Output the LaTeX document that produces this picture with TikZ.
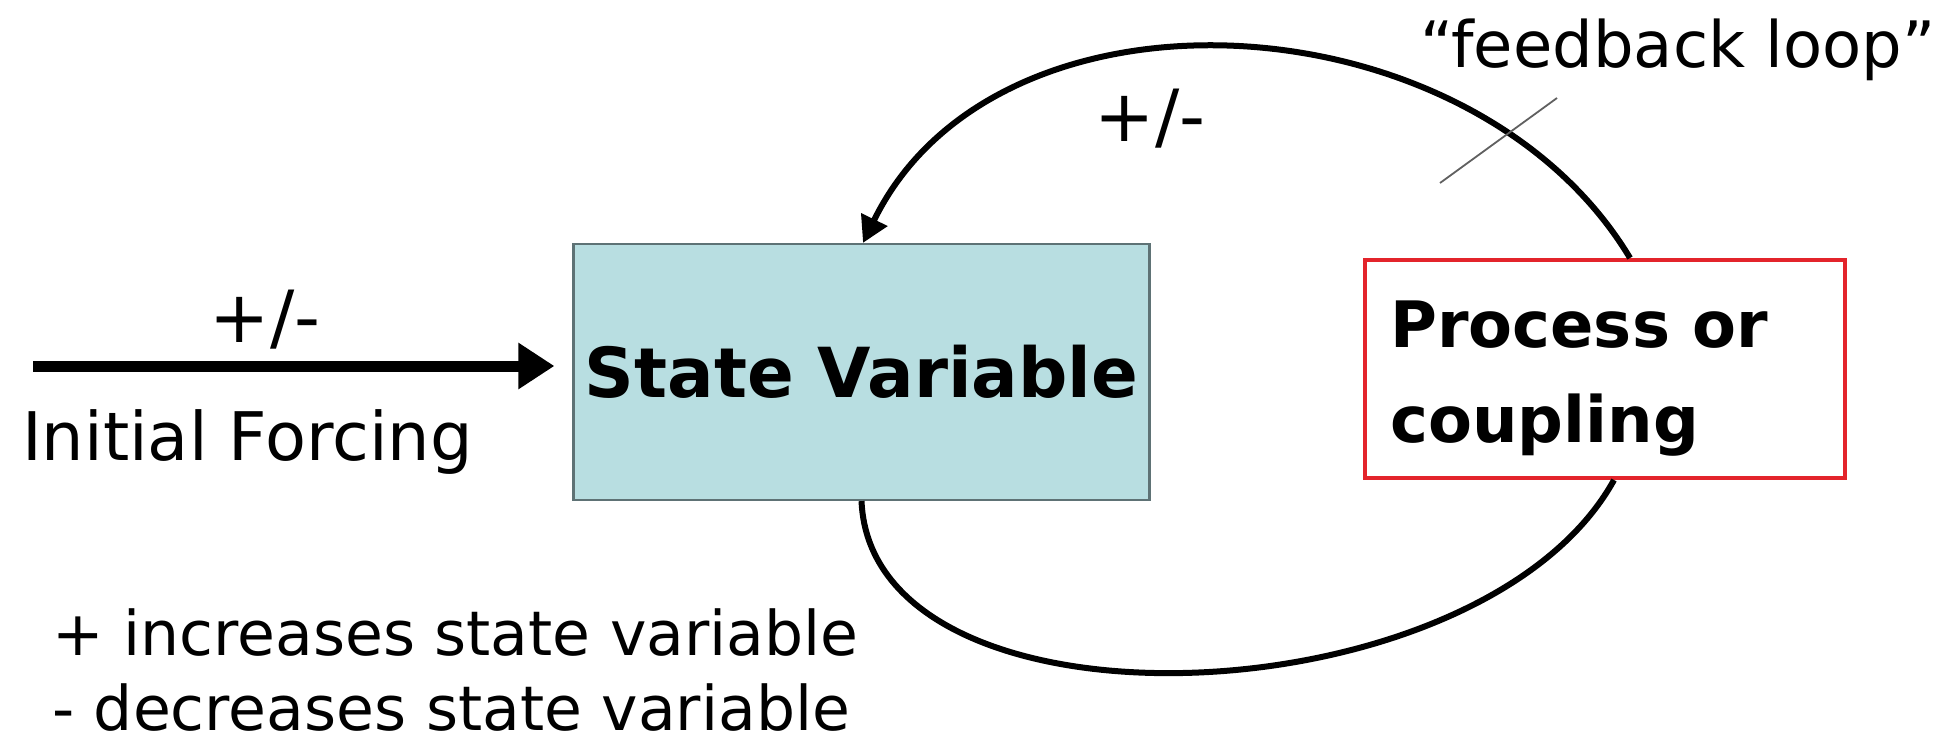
\documentclass[tikz,border=0pt]{standalone}
\usepackage{fontspec}
\setmainfont{DejaVu Sans}
\usetikzlibrary{arrows.meta}
\definecolor{svfill}{HTML}{B8DEE1}
\definecolor{svdraw}{HTML}{5E7275}
\definecolor{procred}{HTML}{E3242B}
\definecolor{tickgray}{HTML}{606060}
\begin{document}
\begin{tikzpicture}[x=1pt,y=-1pt,
  svbox/.style={draw=svdraw, line width=2.2pt, fill=svfill, minimum width=576pt, minimum height=256pt, inner sep=0pt,
    font=\fontsize{69}{82}\selectfont\bfseries},
  procbox/.style={draw=procred, line width=4pt, minimum width=480pt, minimum height=218pt, inner sep=0pt},
  proctext/.style={font=\fontsize{64}{95}\selectfont\bfseries, align=left, inner sep=0pt},
  lbl/.style={font=\fontsize{72}{84}\selectfont, inner sep=0pt},
  initlbl/.style={font=\fontsize{67}{80}\selectfont, inner sep=0pt},
  legend/.style={font=\fontsize{61.6}{72}\selectfont, inner sep=0pt},
  fbstyle/.style={font=\fontsize{64}{76}\selectfont, inner sep=0pt},
  loopline/.style={line width=6pt, draw=black},
  forcing/.style={line width=11pt, draw=black, -{Triangle[length=36pt,width=44pt]}},
  tickline/.style={line width=1.8pt, draw=tickgray}]
\useasboundingbox (0,0) rectangle (1934,742);
% boxes
\node[svbox] (sv) at (861.5,372) {State Variable};
\node[procbox] (proc) at (1605,369) {};
\node[proctext, anchor=west] (proctxt) at (1390,379) {Process or\\coupling};
% initial forcing
\coordinate (fstart) at (33,366);
\draw[forcing, shorten >=18pt] (fstart) -- (sv.west |- fstart);
\node[lbl] (pmleft) at (265,320) {+/-};
\node[initlbl, anchor=west] (init) at (22,442) {Initial Forcing};
% feedback loop
\draw[loopline, -{Triangle[length=26pt,width=28pt]}] ([xshift=25pt]proc.north) .. controls (1472,-5) and (997,-32) .. ([xshift=1.5pt]sv.north);
\draw[loopline] (sv.south) .. controls (872,745) and (1480,722) .. ([xshift=9pt]proc.south);
\node[lbl] (pmtop) at (1150,119) {+/-};
\node[fbstyle] (fbl) at (1678,50) {“feedback loop”};
\coordinate (tickA) at (1440,183);
\coordinate (tickB) at (1557,98);
\draw[tickline] (tickA) -- (tickB);
% legend
\node[legend, anchor=base west] (leg1) at (52,655) {+ increases state variable};
\node[legend, anchor=base west] (leg2) at (52,730) {- decreases state variable};
\end{tikzpicture}
\end{document}
